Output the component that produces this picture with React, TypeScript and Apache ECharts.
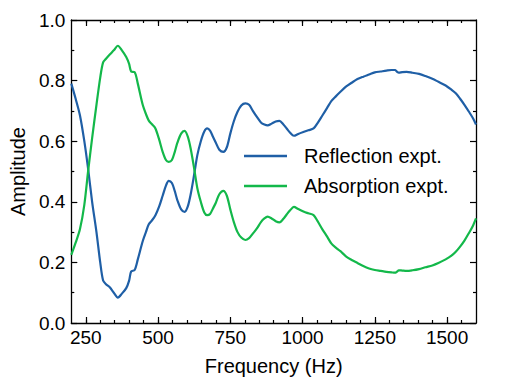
import React, { useEffect, useRef } from "react";
import * as echarts from "echarts";

const frequency = [
  200, 215, 230, 245, 258, 272, 287, 300, 310, 320, 333, 347, 361, 375, 390, 400, 407, 419, 430, 447,
  458, 468, 480, 491, 504, 516, 528, 537, 548, 558, 567, 580, 592, 603, 613, 625, 636, 648, 660, 670,
  680, 690, 700, 712, 726, 738, 750, 762, 775, 788, 802, 815, 828, 842, 856, 868, 879, 893, 907, 920,
  933, 945, 957, 970, 985, 1005, 1020, 1038, 1052, 1068, 1085, 1100, 1115, 1131, 1150, 1170, 1190, 1210, 1230, 1250,
  1270, 1290, 1308, 1320, 1326, 1333, 1345, 1360, 1380, 1403, 1425, 1449, 1470, 1495, 1515, 1530, 1545, 1560, 1575, 1590,
  1600,
];

const reflection = [
  0.79, 0.74, 0.685, 0.6, 0.51, 0.4, 0.3, 0.2, 0.14, 0.128, 0.118, 0.1, 0.084, 0.097, 0.115, 0.14, 0.17, 0.175, 0.21, 0.27,
  0.3, 0.326, 0.34, 0.356, 0.385, 0.42, 0.455, 0.469, 0.462, 0.435, 0.405, 0.375, 0.367, 0.385, 0.425, 0.49, 0.554, 0.6, 0.632, 0.642,
  0.635, 0.615, 0.595, 0.572, 0.565, 0.58, 0.625, 0.665, 0.697, 0.718, 0.725, 0.72, 0.7, 0.68, 0.662, 0.655, 0.652, 0.658, 0.665, 0.667,
  0.656, 0.642, 0.628, 0.618, 0.624, 0.631, 0.636, 0.642, 0.66, 0.684, 0.71, 0.733, 0.748, 0.763, 0.78, 0.793, 0.805, 0.813, 0.82, 0.827,
  0.83, 0.833, 0.835, 0.835, 0.83, 0.826, 0.828, 0.829, 0.826, 0.822, 0.815, 0.806, 0.796, 0.784, 0.77, 0.758, 0.74, 0.72, 0.698, 0.675,
  0.655,
];

const absorption = [
  0.225, 0.265, 0.31, 0.39, 0.5, 0.61, 0.72, 0.81, 0.86, 0.872, 0.886, 0.9, 0.915, 0.9, 0.878, 0.855, 0.83, 0.828, 0.79, 0.72,
  0.69, 0.668, 0.655, 0.642, 0.605, 0.565, 0.537, 0.532, 0.538, 0.565, 0.595, 0.625, 0.634, 0.615, 0.575, 0.51, 0.445, 0.4, 0.365, 0.356,
  0.36, 0.378, 0.397, 0.425, 0.436, 0.42, 0.375, 0.334, 0.3, 0.282, 0.274, 0.28, 0.295, 0.312, 0.333, 0.345, 0.351, 0.345, 0.336, 0.332,
  0.343, 0.358, 0.372, 0.383, 0.376, 0.367, 0.362, 0.356, 0.336, 0.31, 0.285, 0.262, 0.249, 0.237, 0.22, 0.208, 0.198, 0.188, 0.18, 0.175,
  0.172, 0.169, 0.167, 0.166, 0.169, 0.174, 0.173, 0.172, 0.174, 0.178, 0.184, 0.19, 0.198, 0.21, 0.222, 0.235, 0.252, 0.272, 0.296, 0.322,
  0.345,
];

const xMajorTicks = [250, 500, 750, 1000, 1250, 1500];
const xMinorTicks = [
  250, 300, 350, 400, 450, 500, 550, 600, 650, 700, 750, 800, 850, 900, 950, 1000, 1050, 1100, 1150, 1200,
  1250, 1300, 1350, 1400, 1450, 1500, 1550,
];

const seriesNames = ["Reflection expt.", "Absorption expt."];
const BLUE = "#1f5fa6";
const GREEN = "#13b84a";
const FONT = "Liberation Sans, Arial, sans-serif";

export default function App() {
  const ref = useRef<HTMLDivElement>(null);
  useEffect(() => {
    if (!ref.current) return;
    const chart = echarts.init(ref.current, undefined, { renderer: "svg" });
    const axisLine = { show: true, lineStyle: { color: "#000", width: 1.3 } };
    const baseX = { type: "value", min: 200, max: 1600, gridIndex: 0, splitLine: { show: false } };
    chart.setOption({
      animation: false,
      textStyle: { fontFamily: FONT },
      grid: { left: 68, top: 20, width: 408, height: 303 },
      legend: {
        orient: "vertical",
        left: 244,
        top: 146,
        padding: 0,
        itemGap: 10,
        itemWidth: 43,
        itemHeight: 2.5,
        icon: "rect",
        data: seriesNames,
        textStyle: { fontSize: 20, color: "#000", fontFamily: FONT, padding: [0, 0, 0, 12] },
      },
      xAxis: [
        {
          ...baseX,
          position: "bottom",
          axisLine,
          axisTick: { show: true, inside: true, length: 6, customValues: xMajorTicks, lineStyle: { color: "#000", width: 1.2 } },
          axisLabel: {
            show: true,
            customValues: xMajorTicks,
            fontSize: 19,
            color: "#000",
            margin: 5,
            fontFamily: FONT,
            formatter: (v: number) => String(v),
          },
          name: "Frequency (Hz)",
          nameLocation: "middle",
          nameGap: 33,
          nameTextStyle: { fontSize: 20, color: "#000", fontFamily: FONT },
        },
        {
          ...baseX,
          position: "bottom",
          axisLine: { show: false },
          axisTick: { show: true, inside: true, length: 3, customValues: xMinorTicks, lineStyle: { color: "#000", width: 1.2 } },
          axisLabel: { show: false },
        },
        {
          ...baseX,
          position: "top",
          axisLine,
          axisTick: { show: true, inside: true, length: 6, customValues: xMajorTicks, lineStyle: { color: "#000", width: 1.2 } },
          axisLabel: { show: false },
        },
        {
          ...baseX,
          position: "top",
          axisLine: { show: false },
          axisTick: { show: true, inside: true, length: 3, customValues: xMinorTicks, lineStyle: { color: "#000", width: 1.2 } },
          axisLabel: { show: false },
        },
      ],
      yAxis: [
        {
          type: "value",
          min: 0,
          max: 1,
          interval: 0.2,
          position: "left",
          axisLine,
          splitLine: { show: false },
          axisTick: { show: true, inside: true, length: 6, lineStyle: { color: "#000", width: 1.2 } },
          minorTick: { show: true, splitNumber: 2, length: 3, lineStyle: { color: "#000", width: 1.2 } },
          axisLabel: { fontSize: 19, color: "#000", margin: 6, fontFamily: FONT, formatter: (v: number) => v.toFixed(1) },
          name: "Amplitude",
          nameLocation: "middle",
          nameGap: 43,
          nameTextStyle: { fontSize: 20, color: "#000", fontFamily: FONT },
        },
        {
          type: "value",
          min: 0,
          max: 1,
          interval: 0.2,
          position: "right",
          axisLine,
          splitLine: { show: false },
          axisTick: { show: true, inside: true, length: 6, lineStyle: { color: "#000", width: 1.2 } },
          minorTick: { show: true, splitNumber: 2, length: 3, lineStyle: { color: "#000", width: 1.2 } },
          axisLabel: { show: false },
        },
      ],
      series: [
        {
          name: seriesNames[0],
          type: "line",
          xAxisIndex: 0,
          yAxisIndex: 0,
          data: frequency.map((f, i) => [f, reflection[i]]),
          showSymbol: false,
          symbol: "none",
          smooth: 0.3,
          color: BLUE,
          lineStyle: { color: BLUE, width: 2.2 },
        },
        {
          name: seriesNames[1],
          type: "line",
          xAxisIndex: 0,
          yAxisIndex: 0,
          data: frequency.map((f, i) => [f, absorption[i]]),
          showSymbol: false,
          symbol: "none",
          smooth: 0.3,
          color: GREEN,
          lineStyle: { color: GREEN, width: 2.2 },
        },
      ],
    });
    return () => chart.dispose();
  }, []);
  return <div ref={ref} style={{ position: "absolute", left: 0, top: 0, width: 508, height: 382 }} />;
}
